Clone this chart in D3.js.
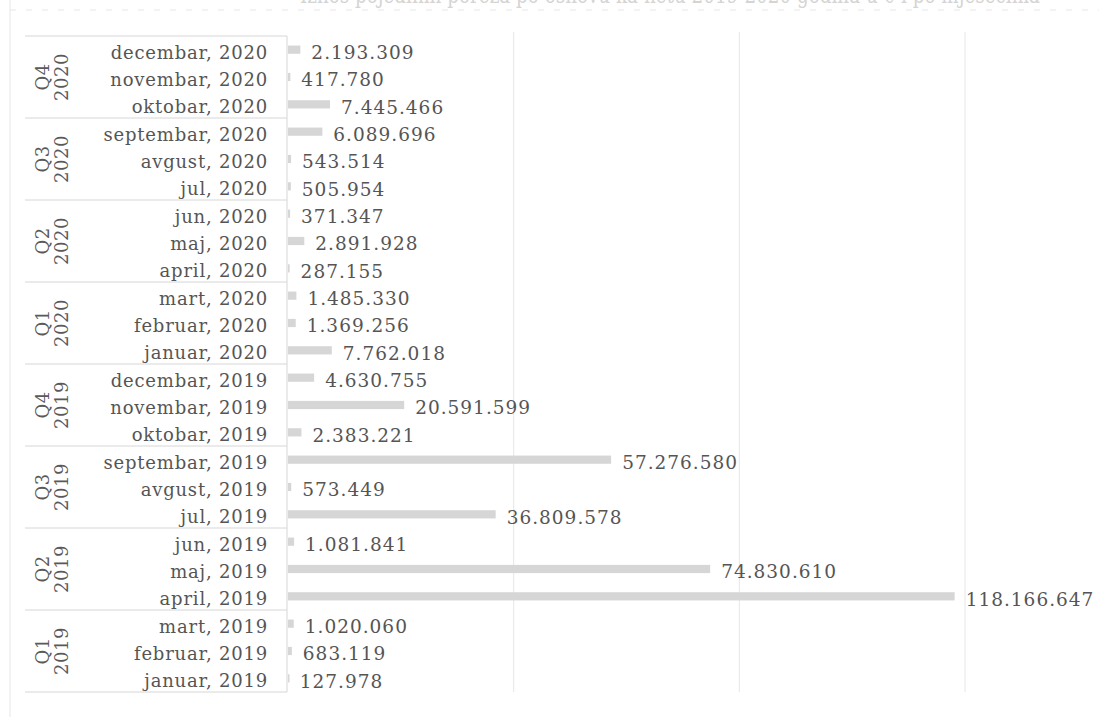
<!DOCTYPE html>
<html>
<head>
<meta charset="utf-8">
<script src="https://cdn.jsdelivr.net/npm/d3@7/dist/d3.min.js"></script>
<style>
  body { margin: 0; background: #fff; }
  text { font-family: "DejaVu Serif", serif; }
</style>
</head>
<body>
<svg id="chart" width="1099" height="717"></svg>
<script>
// months in chronological order
const monthNames = ["januar", "februar", "mart", "april", "maj", "jun",
                    "jul", "avgust", "septembar", "oktobar", "novembar", "decembar"];
const years = [2019, 2020];
const values2019 = [127978, 683119, 1020060, 118166647, 74830610, 1081841,
                    36809578, 573449, 57276580, 2383221, 20591599, 4630755];
const values2020 = [7762018, 1369256, 1485330, 287155, 2891928, 371347,
                    505954, 543514, 6089696, 7445466, 417780, 2193309];
const xTicks = [0, 40000000, 80000000, 120000000];
const title = "Iznos pojedinih poreza po osnovu ka netu 2019-2020 godina u € i po mjesecima";

const margin = {top: 36, right: 134, bottom: 25, left: 287};
const width = 1099, height = 717;

const rows = [];
years.forEach((yr, yi) => {
    const vals = yi === 0 ? values2019 : values2020;
    monthNames.forEach((m, mi) => {
        rows.push({key: `${m}, ${yr}`, year: yr, quarter: Math.floor(mi / 3) + 1, value: vals[mi]});
    });
});
// latest month on top
const order = rows.slice().reverse();

const locale = d3.formatLocale({decimal: ",", thousands: ".", grouping: [3], currency: ["", "€"]});
const fmt = locale.format(",d");

const svg = d3.select("#chart");

// faint cut-off title and frame from the scan
svg.append("text")
    .attr("x", 300).attr("y", 3)
    .attr("textLength", 740)
    .attr("lengthAdjust", "spacingAndGlyphs")
    .style("font-size", "24px")
    .style("fill", "#d4d4d4")
    .text(title);
svg.append("line")
    .attr("x1", 10).attr("x2", width).attr("y1", 10).attr("y2", 10)
    .attr("stroke", "#e6e6e6").attr("stroke-dasharray", "6,10");
svg.append("line")
    .attr("x1", 10).attr("x2", 10).attr("y1", 0).attr("y2", height)
    .attr("stroke", "#e6e6e6");

const y = d3.scaleBand()
    .domain(order.map(d => d.key))
    .range([margin.top, height - margin.bottom]);

const yBar = d3.scaleBand()
    .domain(order.map(d => d.key))
    .range([margin.top, height - margin.bottom])
    .paddingInner(0.7)
    .paddingOuter(0.35);

const x = d3.scaleLinear()
    .domain([0, 120000000])
    .range([margin.left + 1, width - margin.right]);

// gridlines
svg.append("g")
    .selectAll("line")
    .data(xTicks.slice(1))
    .join("line")
    .attr("x1", d => x(d)).attr("x2", d => x(d))
    .attr("y1", margin.top - 4).attr("y2", height - margin.bottom)
    .attr("stroke", "#e6e6e6");

// bars
svg.append("g")
    .selectAll("rect")
    .data(order)
    .join("rect")
    .attr("x", x(0))
    .attr("y", d => yBar(d.key))
    .attr("width", d => Math.max(1.5, x(d.value) - x(0)))
    .attr("height", yBar.bandwidth())
    .attr("fill", "#d6d6d6");

// value labels
svg.append("g")
    .selectAll("text")
    .data(order)
    .join("text")
    .attr("x", d => x(d.value) + 11)
    .attr("y", d => y(d.key) + y.bandwidth() / 2)
    .attr("dy", "0.5em")
    .style("font-size", "18.5px")
    .style("letter-spacing", "1px")
    .style("fill", "#555")
    .text(d => fmt(d.value));

// axis line
svg.append("line")
    .attr("x1", margin.left).attr("x2", margin.left)
    .attr("y1", margin.top).attr("y2", height - margin.bottom)
    .attr("stroke", "#d6d6d6");

// month labels
svg.append("g")
    .selectAll("text")
    .data(order)
    .join("text")
    .attr("x", margin.left - 19)
    .attr("y", d => y(d.key) + y.bandwidth() / 2)
    .attr("dy", "0.5em")
    .attr("text-anchor", "end")
    .style("font-size", "18px")
    .style("letter-spacing", "0.8px")
    .style("fill", "#555")
    .text(d => d.key);

// quarter groups
const groups = d3.groups(order, d => `Q${d.quarter} ${d.year}`).map(([k, v]) => ({
    q: `Q${v[0].quarter}`, year: v[0].year,
    y0: y(v[0].key), y1: y(v[v.length - 1].key) + y.bandwidth()
}));

const sepY = [margin.top].concat(groups.map(g => g.y1));
svg.append("g")
    .selectAll("line")
    .data(sepY)
    .join("line")
    .attr("x1", 25).attr("x2", margin.left)
    .attr("y1", d => d).attr("y2", d => d)
    .attr("stroke", "#d6d6d6");

const qLab = svg.append("g")
    .selectAll("text")
    .data(groups)
    .join("text")
    .attr("transform", d => `translate(52,${(d.y0 + d.y1) / 2}) rotate(-90)`)
    .attr("text-anchor", "middle")
    .style("font-size", "18px")
    .style("letter-spacing", "0.5px")
    .style("fill", "#5a5a5a");
qLab.append("tspan").attr("x", 0).attr("dy", "-0.15em").text(d => d.q);
qLab.append("tspan").attr("x", 0).attr("dy", "1.05em").text(d => d.year);
</script>
</body>
</html>
